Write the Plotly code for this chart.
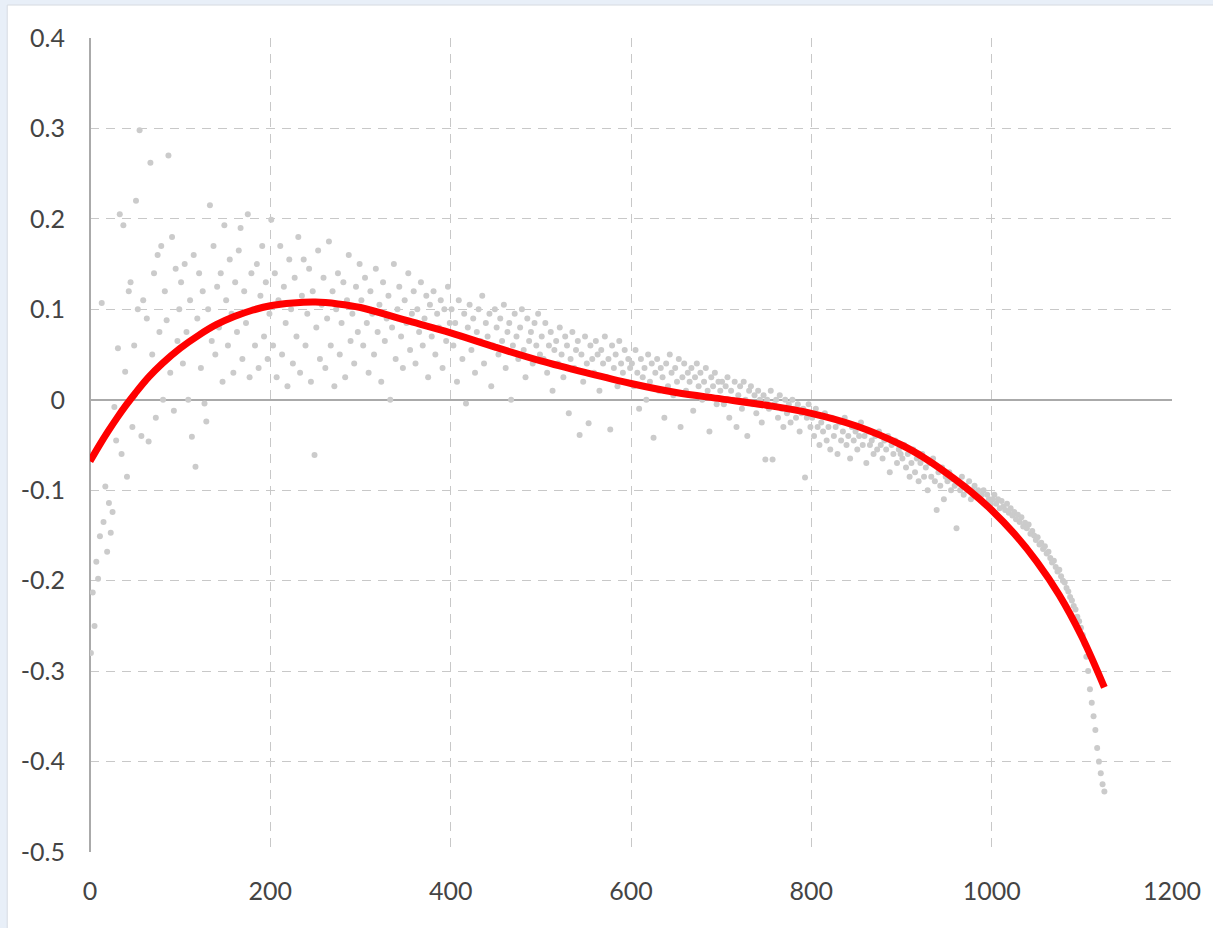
import plotly.graph_objects as go

# ---- scatter data (y, x = rank 1..1125 step 2) ----
y_0_100 = [-0.28, -0.213, -0.25, -0.179, -0.198, -0.151, 0.107, -0.135, -0.096, -0.168,
           -0.114, -0.147, -0.124, -0.008, -0.045, 0.057, 0.205, -0.06, 0.193, 0.031,
           -0.085, 0.12, 0.13, -0.03, 0.06, 0.22, 0.1, 0.298, -0.04, 0.11,
           0.02, 0.09, -0.046, 0.262, 0.05, 0.14, -0.02, 0.16, 0.075, 0.17,
           0.0, 0.12, 0.088, 0.27, 0.03, 0.18, -0.012, 0.145, 0.065, 0.1]
y_100_200 = [0.13, 0.04, 0.15, 0.075, 0.0, 0.11, -0.041, 0.16, -0.074, 0.09,
             0.14, 0.035, 0.12, -0.004, -0.024, 0.1, 0.215, 0.065, 0.17, 0.05,
             0.125, 0.08, 0.14, 0.02, 0.193, 0.11, 0.06, 0.155, 0.095, 0.03,
             0.13, 0.075, 0.165, 0.19, 0.045, 0.12, 0.085, 0.205, 0.025, 0.14,
             0.1, 0.06, 0.15, 0.035, 0.115, 0.17, 0.07, 0.13, 0.045, 0.095]
y_200_300 = [0.199, 0.06, 0.14, 0.025, 0.11, 0.17, 0.05, 0.125, 0.085, 0.015,
             0.155, 0.1, 0.04, 0.135, 0.07, 0.18, 0.03, 0.115, 0.155, 0.06,
             0.095, 0.145, 0.02, 0.12, -0.061, 0.08, 0.165, 0.045, 0.105, 0.135,
             0.035, 0.09, 0.175, 0.06, 0.12, 0.015, 0.1, 0.14, 0.05, 0.085,
             0.13, 0.025, 0.11, 0.16, 0.065, 0.095, 0.04, 0.125, 0.075, 0.15]
y_300_400 = [0.11, 0.06, 0.135, 0.085, 0.03, 0.12, 0.095, 0.05, 0.145, 0.075,
             0.105, 0.02, 0.13, 0.065, 0.09, 0.115, 0.0, 0.08, 0.15, 0.045,
             0.1, 0.125, 0.07, 0.035, 0.11, 0.085, 0.14, 0.055, 0.095, 0.12,
             0.04, 0.1, 0.075, 0.13, 0.06, 0.09, 0.115, 0.025, 0.105, 0.07,
             0.12, 0.05, 0.095, 0.08, 0.11, 0.035, 0.1, 0.065, 0.125, 0.085]
y_400_500 = [0.1, 0.06, 0.085, 0.02, 0.11, 0.07, 0.045, 0.095, -0.004, 0.08,
             0.105, 0.055, 0.09, 0.03, 0.075, 0.1, 0.065, 0.115, 0.04, 0.085,
             0.07, 0.095, 0.015, 0.06, 0.1, 0.08, 0.05, 0.09, 0.065, 0.105,
             0.035, 0.075, 0.085, 0.0, 0.06, 0.095, 0.07, 0.045, 0.08, 0.1,
             0.055, 0.025, 0.09, 0.065, 0.075, 0.04, 0.085, 0.06, 0.095, 0.05]
y_500_600 = [0.07, 0.045, 0.085, 0.03, 0.06, 0.075, 0.01, 0.055, 0.065, 0.04,
             0.08, 0.05, 0.025, 0.07, 0.06, -0.015, 0.045, 0.075, 0.035, 0.055,
             0.065, -0.039, 0.05, 0.02, 0.07, 0.04, -0.026, 0.06, 0.045, 0.03,
             0.065, 0.05, 0.01, 0.055, 0.04, 0.07, 0.025, 0.045, -0.033, 0.06,
             0.035, 0.05, 0.015, 0.065, 0.04, 0.03, 0.055, 0.02, 0.045, 0.035]
y_600_700 = [0.04, 0.015, 0.055, 0.03, -0.01, 0.045, 0.025, 0.035, 0.0, 0.05,
             0.02, 0.04, -0.042, 0.03, 0.045, 0.01, 0.035, 0.025, -0.02, 0.04,
             0.015, 0.05, 0.03, 0.005, 0.035, 0.02, 0.045, -0.03, 0.025, 0.04,
             0.01, 0.03, 0.02, 0.035, -0.012, 0.025, 0.04, 0.015, 0.03, 0.0,
             0.02, 0.035, 0.01, -0.035, 0.025, 0.015, 0.03, -0.005, 0.02, 0.01]
y_700_800 = [0.02, -0.005, 0.015, 0.025, -0.02, 0.01, 0.0, 0.02, -0.03, 0.005,
             0.015, -0.01, 0.02, 0.0, -0.04, 0.01, 0.015, -0.005, 0.005, -0.015,
             0.01, 0.0, -0.025, 0.005, -0.066, 0.0, -0.01, 0.01, -0.066, -0.005,
             0.0, -0.02, 0.005, -0.01, -0.03, 0.0, -0.015, -0.005, -0.025, 0.0,
             -0.01, -0.02, -0.005, -0.035, -0.015, -0.01, -0.086, -0.02, -0.005, -0.03]
y_800_900 = [-0.02, -0.04, -0.01, -0.03, -0.05, -0.025, -0.035, -0.015, -0.045, -0.03,
             -0.055, -0.02, -0.04, -0.03, -0.06, -0.025, -0.045, -0.035, -0.02, -0.05,
             -0.04, -0.065, -0.03, -0.045, -0.035, -0.055, -0.04, -0.025, -0.05, -0.04,
             -0.07, -0.035, -0.05, -0.045, -0.06, -0.04, -0.055, -0.035, -0.05, -0.065,
             -0.045, -0.055, -0.04, -0.08, -0.05, -0.06, -0.045, -0.07, -0.055, -0.06]
y_900_1000 = [-0.065, -0.05, -0.075, -0.06, -0.085, -0.07, -0.055, -0.08, -0.065, -0.09,
              -0.07, -0.06, -0.085, -0.075, -0.1, -0.07, -0.085, -0.065, -0.09, -0.122,
              -0.08, -0.095, -0.075, -0.11, -0.085, -0.09, -0.08, -0.1, -0.088, -0.095,
              -0.142, -0.09, -0.1, -0.085, -0.105, -0.095, -0.1, -0.09, -0.11, -0.1,
              -0.095, -0.105, -0.1, -0.11, -0.105, -0.1, -0.115, -0.105, -0.11, -0.115]
y_1000_1100 = [-0.11, -0.105, -0.115, -0.11, -0.12, -0.112, -0.118, -0.122, -0.115, -0.125,
               -0.12, -0.128, -0.124, -0.132, -0.127, -0.135, -0.13, -0.14, -0.136, -0.142,
               -0.138, -0.148, -0.145, -0.15, -0.155, -0.152, -0.16, -0.158, -0.165, -0.162,
               -0.17, -0.168, -0.175, -0.18, -0.178, -0.185, -0.19, -0.188, -0.195, -0.2,
               -0.202, -0.208, -0.212, -0.218, -0.222, -0.228, -0.232, -0.24, -0.245, -0.252]
y_1100_1125 = [-0.26, -0.27, -0.284, -0.3, -0.32, -0.335, -0.35, -0.365, -0.385, -0.4,
               -0.413, -0.425, -0.433]

scatter_y = (y_0_100 + y_100_200 + y_200_300 + y_300_400 + y_400_500 + y_500_600
             + y_600_700 + y_700_800 + y_800_900 + y_900_1000 + y_1000_1100 + y_1100_1125)
scatter_x = list(range(1, 2 * len(scatter_y), 2))

# ---- fitted curve ----
curve_x = [0, 10, 20, 30, 40, 50, 65, 80, 100, 120, 140, 160, 180, 200, 225, 250, 275,
           300, 350, 400, 450, 500, 550, 600, 650, 700, 750, 800, 850, 900, 925, 950,
           975, 1000, 1025, 1050, 1075, 1100, 1125]
curve_y = [-0.068, -0.051, -0.035, -0.020, -0.006, 0.007, 0.025, 0.040, 0.057, 0.071,
           0.083, 0.092, 0.099, 0.104, 0.107, 0.108, 0.106, 0.102, 0.088, 0.074, 0.058,
           0.043, 0.03, 0.018, 0.008, 0.001, -0.006, -0.015, -0.029, -0.05, -0.064,
           -0.081, -0.1, -0.122, -0.148, -0.179, -0.216, -0.262, -0.318]

# ---- ticks ----
y_tickvals = [0.4, 0.3, 0.2, 0.1, 0, -0.1, -0.2, -0.3, -0.4, -0.5]
y_ticktext = ["0.4", "0.3", "0.2", "0.1", "0", "-0.1", "-0.2", "-0.3", "-0.4", "-0.5"]
x_tickvals = [0, 200, 400, 600, 800, 1000, 1200]
x_ticktext = ["0", "200", "400", "600", "800", "1000", "1200"]

fig = go.Figure()
fig.add_trace(go.Scatter(x=scatter_x, y=scatter_y, mode="markers",
                         marker=dict(color="#cbcbcb", size=6), hoverinfo="skip",
                         showlegend=False))
fig.add_trace(go.Scatter(x=curve_x, y=curve_y, mode="lines",
                         line=dict(color="#ff0000", width=7, shape="spline", smoothing=1),
                         showlegend=False))

grid = "#c8c8c8"
fig.update_layout(
    width=1213, height=928,
    margin=dict(l=90, r=38, t=38, b=76),
    paper_bgcolor="#e8eff8",
    plot_bgcolor="white",
    font=dict(family="Lato, sans-serif", size=25, color="#444444"),
    xaxis=dict(range=[0, 1200], tickvals=x_tickvals, ticktext=x_ticktext,
               showgrid=True, gridcolor=grid, griddash="9px,7px", gridwidth=1,
               zeroline=True, zerolinecolor="#aaaaaa", zerolinewidth=1.5,
               showline=False, ticks="", ticklabelstandoff=22),
    yaxis=dict(range=[-0.5, 0.4], tickvals=y_tickvals, ticktext=y_ticktext,
               showgrid=True, gridcolor=grid, griddash="9px,7px", gridwidth=1,
               zeroline=True, zerolinecolor="#aaaaaa", zerolinewidth=1.5,
               showline=False, ticks="", ticklabelstandoff=24),
    shapes=[dict(type="rect", xref="paper", yref="paper", x0=-0.0765, x1=1.05,
                 y0=-0.12, y1=1.0405, fillcolor="white",
                 line=dict(color="#d6dbe2", width=1), layer="below")],
)
fig.write_html("out.html")
